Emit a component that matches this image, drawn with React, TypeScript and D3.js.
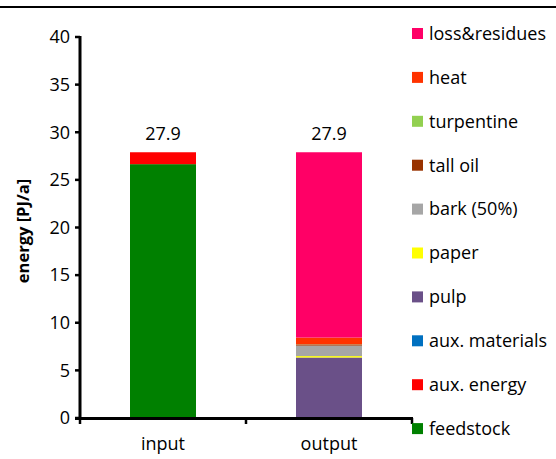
import React from "react";
import * as d3 from "d3";

const categories = ["input", "output"];
const seriesNames = [
  "feedstock",
  "aux. energy",
  "aux. materials",
  "pulp",
  "paper",
  "bark (50%)",
  "tall oil",
  "turpentine",
  "heat",
  "loss&residues",
];
const seriesColors = [
  "#008000",
  "#FF0000",
  "#0070C0",
  "#6A5088",
  "#FFFF00",
  "#A6A6A6",
  "#993300",
  "#92D050",
  "#FF3300",
  "#FF0066",
];
const inputValues = [26.65, 1.25, 0, 0, 0, 0, 0, 0, 0, 0];
const outputValues = [0, 0, 0, 6.35, 0.15, 1.1, 0.12, 0.02, 0.7, 19.46];
const totals = ["27.9", "27.9"];
const yTicks = [0, 5, 10, 15, 20, 25, 30, 35, 40];

const W = 556;
const H = 459;
const FONT = "'Open Sans', sans-serif";
const FS = 18;

export default function App() {
  const xOuter = d3.scaleBand().domain(categories).range([80, 412]);
  const y = d3.scaleLinear().domain([0, 40]).range([418, 37]);

  const rows = categories.map((c, ci) => {
    const vals = ci === 0 ? inputValues : outputValues;
    const obj: any = { cat: c };
    seriesNames.forEach((s, i) => (obj[s] = vals[i]));
    return obj;
  });
  const stack = d3.stack<any>().keys(seriesNames)(rows);

  const bw = 66;
  const legendY0 = 33.5;
  const legendStep = 43.9;
  const legendOrder = [...seriesNames].reverse();

  return (
    <svg width={W} height={H} style={{ position: "absolute", left: 0, top: 0, background: "#fff" }}>
      <line x1={0} x2={W} y1={7} y2={7} stroke="#000" strokeWidth={2} />
      {stack.map((layer, li) =>
        layer.map((d, di) => {
          const cx = (xOuter(categories[di]) as number) + xOuter.bandwidth() / 2;
          const h = y(d[0]) - y(d[1]);
          if (h <= 0) return null;
          return (
            <rect
              key={`${li}-${di}`}
              x={cx - bw / 2}
              y={y(d[1])}
              width={bw}
              height={h}
              fill={seriesColors[li]}
            />
          );
        })
      )}
      {categories.map((c, i) => {
        const cx = (xOuter(c) as number) + xOuter.bandwidth() / 2;
        const top = d3.sum(i === 0 ? inputValues : outputValues);
        return (
          <g key={c}>
            <text x={cx} y={y(top) - 12} textAnchor="middle" fontFamily={FONT} fontSize={FS} fill="#000">
              {totals[i]}
            </text>
            <text x={cx} y={450} textAnchor="middle" fontFamily={FONT} fontSize={FS} fill="#000">
              {c}
            </text>
          </g>
        );
      })}
      {/* y axis */}
      <line x1={80} x2={80} y1={y(40) - 1} y2={y(0) + 2} stroke="#000" strokeWidth={3} />
      {yTicks.map((t) => (
        <g key={t}>
          <line x1={75} x2={80} y1={y(t)} y2={y(t)} stroke="#000" strokeWidth={2.5} />
          <text x={70} y={y(t)} dy="0.35em" textAnchor="end" fontFamily={FONT} fontSize={FS} fill="#000">
            {t}
          </text>
        </g>
      ))}
      {/* x axis */}
      <line x1={75} x2={413} y1={418.5} y2={418.5} stroke="#000" strokeWidth={3} />
      {[80, ...categories.map((c) => (xOuter(c) as number) + xOuter.bandwidth())].map((tx, i) => (
        <line key={i} x1={tx} x2={tx} y1={418} y2={424} stroke="#000" strokeWidth={2.5} />
      ))}
      <text
        transform={`translate(23,${231}) rotate(-90)`}
        textAnchor="middle"
        dy="0.35em"
        fontFamily={FONT}
        fontWeight="bold"
        fontSize={16.5}
        fill="#000"
      >
        energy [PJ/a]
      </text>
      {/* legend */}
      {legendOrder.map((s, i) => {
        const idx = seriesNames.indexOf(s);
        const cy = legendY0 + i * legendStep;
        return (
          <g key={s}>
            <rect x={412} y={cy - 5.5} width={11} height={11} fill={seriesColors[idx]} />
            <text x={429} y={cy} dy="0.35em" fontFamily={FONT} fontSize={FS} fill="#000">
              {s}
            </text>
          </g>
        );
      })}
    </svg>
  );
}
